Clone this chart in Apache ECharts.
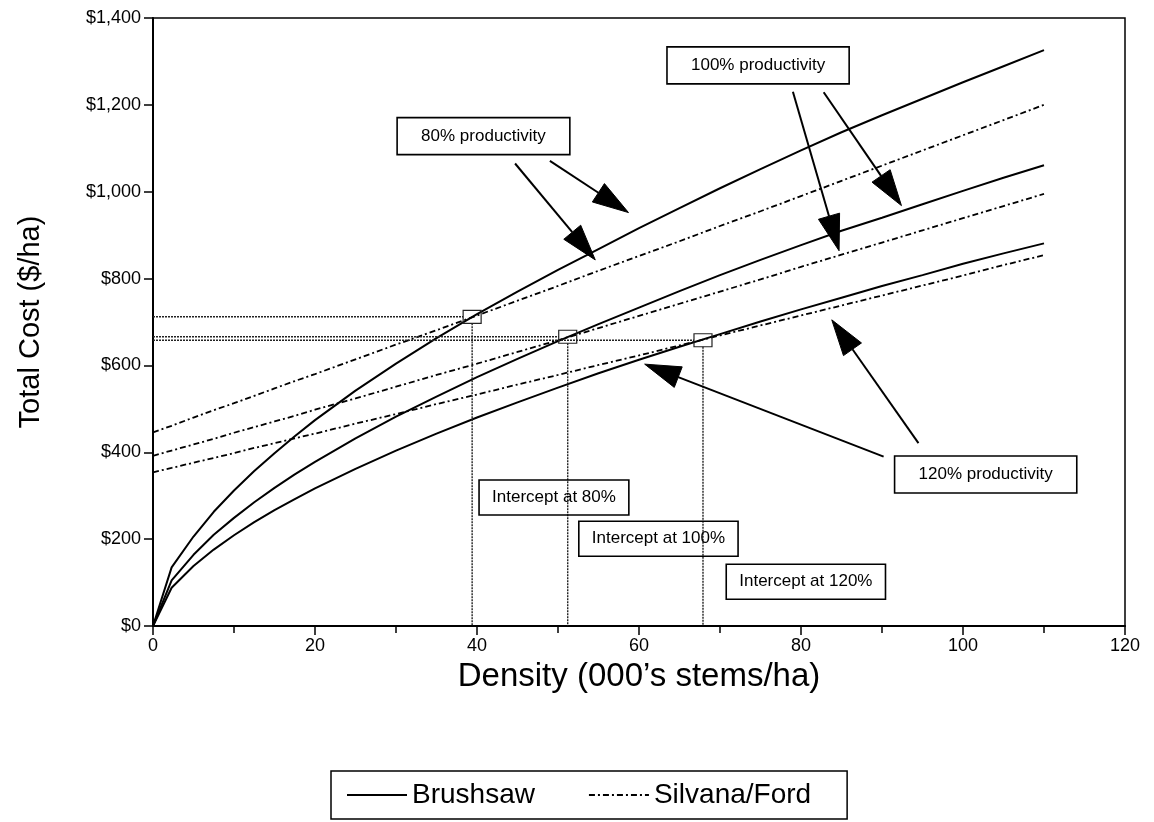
<!DOCTYPE html>
<html>
<head>
<meta charset="utf-8">
<script src="https://cdn.jsdelivr.net/npm/echarts@6/dist/echarts.min.js"></script>
<style>html,body{margin:0;padding:0;background:#fff}#chart{width:1154px;height:822px}</style>
</head>
<body>
<div id="chart"></div>
<script>
// ---- data ----
var density = [0, 2.3, 5, 7.5, 10, 12.5, 15, 17.5, 20, 25, 30, 35, 40, 45, 50, 55, 60, 65, 70, 75, 80, 85, 90, 95, 100, 105, 110];
var brushsaw80  = [0, 135, 206, 263, 312, 357, 398, 437, 474, 542, 604, 663, 718, 770, 820, 868, 916, 962, 1008, 1052, 1095, 1137, 1176, 1214, 1252, 1289, 1326];
var brushsaw100 = [0, 105, 164, 210, 249, 285, 318, 349, 378, 432, 482, 528, 573, 615, 656, 695, 733, 771, 808, 843, 877, 910, 940, 971, 1002, 1032, 1061];
var brushsaw120 = [0, 88, 138, 176, 209, 239, 267, 292, 317, 362, 404, 443, 480, 515, 549, 582, 613, 643, 672, 701, 729, 756, 783, 808, 834, 858, 881];
var silvana80  = [446, 461, 480, 497, 513, 530, 547, 564, 580, 614, 648, 681, 715, 749, 783, 818, 852, 886, 921, 955, 990, 1025, 1060, 1095, 1130, 1165, 1200];
var silvana100 = [392, 404, 418, 431, 445, 458, 471, 484, 498, 524, 551, 578, 604, 631, 658, 686, 714, 742, 770, 798, 827, 855, 883, 911, 939, 967, 995];
var silvana120 = [354, 364, 376, 387, 398, 410, 421, 432, 443, 466, 488, 511, 533, 556, 578, 601, 623, 646, 669, 692, 715, 738, 761, 784, 807, 831, 854];

// intercept points (density, cost)
var interceptX = [39.4, 51.2, 67.9];
var interceptY = [712, 666, 658];

// annotation labels (anchored in data units)
var labelText = ['80% productivity', '100% productivity', '120% productivity', 'Intercept at 80%', 'Intercept at 100%', 'Intercept at 120%'];
var labelX = [40.8, 74.7, 102.8, 49.5, 62.4, 80.6];
var labelY = [1128, 1291, 349, 296, 201, 102];

// arrows: tail (x,y) -> tip (x,y) in data units
var arrowFromX = [44.7, 49.0, 79.0, 82.8, 94.5, 90.2];
var arrowFromY = [1065, 1071, 1230, 1229, 421, 390];
var arrowToX   = [54.6, 58.7, 84.7, 92.4, 83.8, 60.7];
var arrowToY   = [843, 952, 864, 968, 705, 603];

var xTicks = [0, 20, 40, 60, 80, 100, 120];
var yTicks = [0, 200, 400, 600, 800, 1000, 1200, 1400];

// ---- build ----
function pairs(xs, ys) { return xs.map(function (x, i) { return [x, ys[i]]; }); }
var FONT = '"Liberation Sans", Arial, Helvetica, sans-serif';
var solidStyle = { color: '#000', width: 2, type: 'solid' };
var dashStyle = { color: '#000', width: 1.8, type: [6, 3, 2, 3] };

function lineSeries(name, xs, ys, style) {
  return {
    type: 'line', name: name, data: pairs(xs, ys), showSymbol: false, symbol: 'none',
    smooth: false, lineStyle: style, itemStyle: { color: '#000' }, z: 3, silent: true
  };
}

function fmtMoney(v) {
  return '$' + String(v).replace(/\B(?=(\d{3})+(?!\d))/g, ',');
}

var chart = echarts.init(document.getElementById('chart'), null, { renderer: 'canvas' });

var option = {
  animation: false,
  backgroundColor: '#fff',
  textStyle: { fontFamily: FONT, color: '#000' },
  grid: { left: 153, right: 29, top: 18, bottom: 196, show: true, borderColor: '#000', borderWidth: 1.5, backgroundColor: 'transparent' },
  legend: {
    data: ['Brushsaw', 'Silvana/Ford'],
    left: 331, top: 771,
    orient: 'horizontal',
    itemWidth: 60, itemHeight: 14, itemGap: 53,
    padding: [10, 36, 10, 15],
    borderColor: '#000', borderWidth: 1.5, backgroundColor: '#fff',
    itemStyle: { opacity: 0 },
    textStyle: { fontFamily: FONT, fontSize: 28, color: '#000' },
    selectedMode: false
  },
  xAxis: {
    type: 'value', min: 0, max: 120, interval: 20,
    name: 'Density (000\u2019s stems/ha)', nameLocation: 'middle', nameGap: 34,
    nameTextStyle: { fontFamily: FONT, fontSize: 33, color: '#000' },
    axisLine: { show: true, onZero: false, lineStyle: { color: '#000', width: 2 } },
    axisTick: { show: true, inside: false, length: 9, lineStyle: { color: '#000', width: 1.5 } },
    minorTick: { show: true, splitNumber: 2, length: 7, lineStyle: { color: '#000', width: 1.5 } },
    axisLabel: { margin: 11, fontFamily: FONT, fontSize: 18, color: '#000',
      formatter: function (v) { return xTicks.indexOf(v) >= 0 ? String(v) : ''; } },
    splitLine: { show: false }
  },
  yAxis: {
    type: 'value', min: 0, max: 1400, interval: 200,
    name: 'Total Cost ($/ha)', nameLocation: 'middle', nameGap: 108,
    nameTextStyle: { fontFamily: FONT, fontSize: 29, color: '#000' },
    axisLine: { show: true, onZero: false, lineStyle: { color: '#000', width: 2 } },
    axisTick: { show: true, inside: false, length: 9, lineStyle: { color: '#000', width: 1.5 } },
    axisLabel: { margin: 12, fontFamily: FONT, fontSize: 18, color: '#000',
      formatter: function (v) { return yTicks.indexOf(v) >= 0 ? fmtMoney(v) : ''; } },
    splitLine: { show: false }
  },
  series: [
    lineSeries('Brushsaw', density, brushsaw80, solidStyle),
    lineSeries('Brushsaw', density, brushsaw100, solidStyle),
    lineSeries('Brushsaw', density, brushsaw120, solidStyle),
    lineSeries('Silvana/Ford', density, silvana80, dashStyle),
    lineSeries('Silvana/Ford', density, silvana100, dashStyle),
    lineSeries('Silvana/Ford', density, silvana120, dashStyle),
    {
      type: 'custom', name: 'intercepts', silent: true, clip: false, z: 4,
      data: pairs(interceptX, interceptY),
      encode: { x: 0, y: 1 },
      renderItem: function (params, api) {
        var x = api.value(0), y = api.value(1);
        var p = api.coord([x, y]);
        var p0 = api.coord([0, y]);
        var pb = api.coord([x, 0]);
        var w = 18, h = 13;
        var st = { stroke: '#222', lineWidth: 1.4, lineDash: [2, 1] };
        return {
          type: 'group', children: [
            { type: 'line', shape: { x1: p0[0], y1: p[1], x2: p[0] - w / 2, y2: p[1] }, style: st },
            { type: 'line', shape: { x1: p[0], y1: p[1] + h / 2, x2: p[0], y2: pb[1] }, style: st },
            { type: 'rect', shape: { x: p[0] - w / 2, y: p[1] - h / 2, width: w, height: h }, style: { fill: 'none', stroke: '#222', lineWidth: 1.2 } }
          ]
        };
      }
    },
    {
      type: 'custom', name: 'arrows', silent: true, clip: false, z: 5,
      data: arrowFromX.map(function (x, i) { return [x, arrowFromY[i], arrowToX[i], arrowToY[i]]; }),
      encode: { x: [0, 2], y: [1, 3] },
      renderItem: function (params, api) {
        var p1 = api.coord([api.value(0), api.value(1)]);
        var p2 = api.coord([api.value(2), api.value(3)]);
        var dx = p2[0] - p1[0], dy = p2[1] - p1[1];
        var L = Math.sqrt(dx * dx + dy * dy), ux = dx / L, uy = dy / L;
        var hl = 36, hw = 11;
        var bx = p2[0] - ux * hl, by = p2[1] - uy * hl;
        return {
          type: 'group', children: [
            { type: 'line', shape: { x1: p1[0], y1: p1[1], x2: bx, y2: by }, style: { stroke: '#000', lineWidth: 2 } },
            { type: 'polygon', shape: { points: [[p2[0], p2[1]], [bx - uy * hw, by + ux * hw], [bx + uy * hw, by - ux * hw]] }, style: { fill: '#000', stroke: '#000', lineWidth: 1 } }
          ]
        };
      }
    },
    {
      type: 'custom', name: 'labels', silent: true, clip: false, z: 6,
      data: pairs(labelX, labelY),
      encode: { x: 0, y: 1 },
      renderItem: function (params, api) {
        var p = api.coord([api.value(0), api.value(1)]);
        var isProd = params.dataIndex < 3;
        return {
          type: 'text', x: p[0], y: p[1],
          style: {
            text: labelText[params.dataIndex],
            font: '17px ' + FONT, fill: '#000',
            align: 'center', verticalAlign: 'middle',
            padding: isProd ? [10, 24, 10, 24] : [9, 13, 9, 13],
            borderColor: '#000', borderWidth: 1.6
          }
        };
      }
    }
  ]
};
chart.setOption(option);
</script>
</body>
</html>
